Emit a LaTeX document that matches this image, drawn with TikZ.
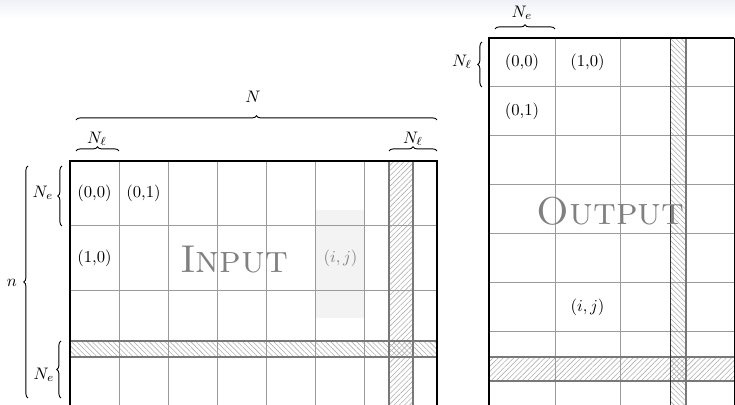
\documentclass[tikz,border=0pt]{standalone}
\usetikzlibrary{decorations.pathreplacing,patterns.meta}
\definecolor{bandtop}{RGB}{240,241,248}
\definecolor{gridgray}{RGB}{155,155,155}
\definecolor{hatchborder}{RGB}{120,120,120}
\definecolor{hatchline}{RGB}{175,175,175}
\definecolor{cellshade}{RGB}{243,243,243}
\definecolor{bigtext}{RGB}{128,128,128}
\begin{document}
\begin{tikzpicture}[x=0.6pt,y=-0.6pt,
  gridline/.style={gridgray, line width=0.6pt},
  frame/.style={black, line width=1.2pt},
  hatchNE/.style={pattern={Lines[angle=45,distance=2.2pt,line width=0.35pt]}, pattern color=hatchline},
  hatchNW/.style={pattern={Lines[angle=-45,distance=2.2pt,line width=0.35pt]}, pattern color=hatchline},
  hatchedge/.style={draw=hatchborder, line width=1pt},
  bracedec/.style={decorate, decoration={brace, amplitude=2.5pt}, line width=0.55pt},
  biglabel/.style={text=bigtext, font=\fontsize{23.3}{28}\selectfont, anchor=base},
  dimlabel/.style={inner sep=0pt}
]
\useasboundingbox (0,0) rectangle (735,405);
\shade[top color=bandtop, bottom color=white] (0,0) rectangle (735,18);
\begin{scope}
\clip (0,0) rectangle (735,405);
% ---------- input matrix ----------
\fill[cellshade] (315,210) rectangle (364,318);
\path[hatchNW] (70,341) rectangle (437,357);
\path[hatchNE] (389,161) rectangle (413,405);
\foreach \x in {119,168,217,266,315,364} \draw[gridline] (\x,161) -- (\x,405);
\foreach \y in {226,291} \draw[gridline] (70,\y) -- (437,\y);
\draw[hatchedge] (70,341) -- (437,341) (70,357) -- (437,357);
\draw[hatchedge] (389,161) -- (389,405) (413,161) -- (413,405);
\draw[frame] (70,405) -- (70,161) -- (437,161) -- (437,405);
% ---------- output matrix ----------
\path[hatchNE] (489,357) rectangle (734,381);
\path[hatchNW] (670,38) rectangle (686,405);
\foreach \x in {555,620} \draw[gridline] (\x,38) -- (\x,405);
\foreach \y in {87,136,185,234,283,332} \draw[gridline] (489,\y) -- (734,\y);
\draw[hatchedge] (489,357) -- (734,357) (489,381) -- (734,381);
\draw[black!80, line width=0.6pt] (670,38) -- (670,405);
\draw[hatchedge] (686,38) -- (686,405);
\draw[frame] (489,405) -- (489,38) -- (734,38);
\draw[black, line width=0.6pt] (734,38) -- (734,405);
\end{scope}
% ---------- cell labels ----------
\node (in00) at (94.5,193.5) {(0,0)};
\node (in01) at (143.5,193.5) {(0,1)};
\node (in10) at (94.5,258.5) {(1,0)};
\node[text=bigtext] (inij) at (340.5,258.5) {$(i,j)$};
\node[biglabel] (inputlabel) at (234,273) {\textsc{Input}};
\node (out00) at (522,62.5) {(0,0)};
\node (out10) at (587.5,62.5) {(1,0)};
\node (out01) at (522,111.5) {(0,1)};
\node (outij) at (587.5,307.5) {$(i,j)$};
\node[biglabel] (outputlabel) at (610.5,225) {\textsc{Output}};
% ---------- braces ----------
\draw[bracedec] (76,120) -- (437,120);
\node (labN) at (253,97) {$N$};
\draw[bracedec] (76,151) -- (119,151);
\node (labNl1) at (97,139) {$N_\ell$};
\draw[bracedec] (389,151) -- (437,151);
\node (labNl2) at (413,139) {$N_\ell$};
\draw[bracedec] (28,398) -- (28,166);
\node (labn) at (12,283) {$n$};
\draw[bracedec] (62,226) -- (62,166);
\node (labNe1) at (43,193) {$N_e$};
\draw[bracedec] (61,398) -- (61,341);
\node (labNe2) at (44,375) {$N_e$};
\draw[bracedec] (495,29) -- (555,29);
\node (labNe3) at (522,13) {$N_e$};
\draw[bracedec] (482,87) -- (482,42);
\node (labNl3) at (462,62) {$N_\ell$};
\end{tikzpicture}
\end{document}
